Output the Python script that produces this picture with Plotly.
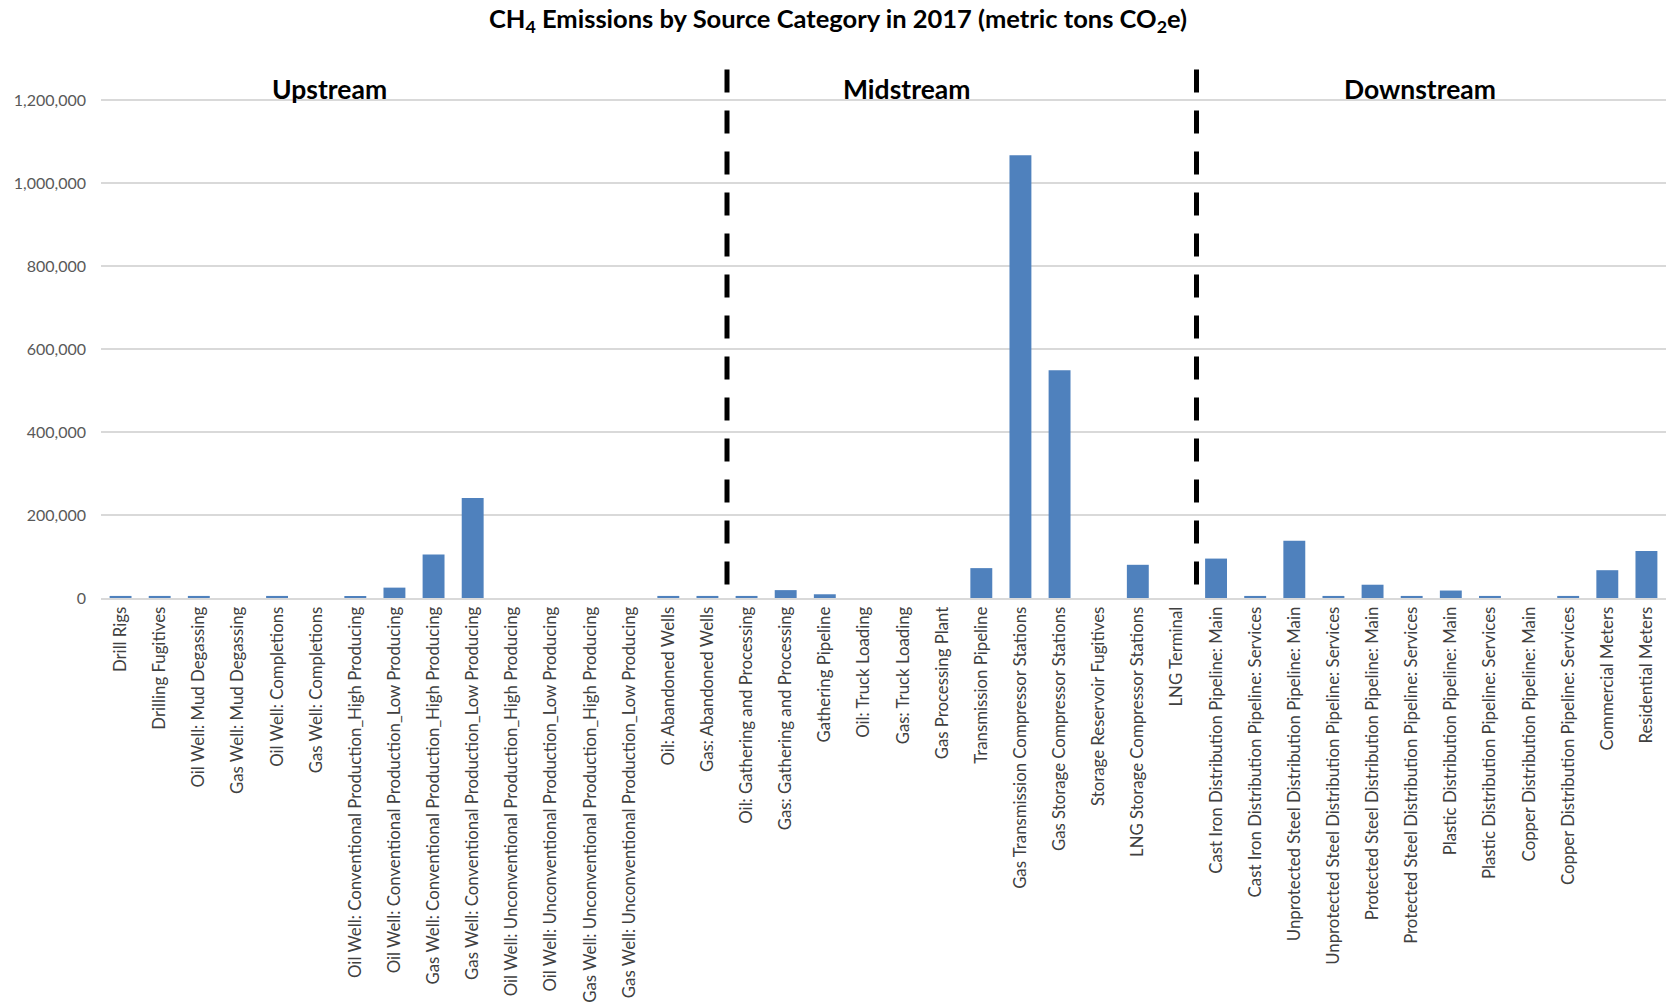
import plotly.graph_objects as go

categories = [
    "Drill Rigs", "Drilling Fugitives", "Oil Well: Mud Degassing", "Gas Well: Mud Degassing",
    "Oil Well: Completions", "Gas Well: Completions",
    "Oil Well: Conventional Production_High Producing",
    "Oil Well: Conventional Production_Low Producing",
    "Gas Well: Conventional Production_High Producing",
    "Gas Well: Conventional Production_Low Producing",
    "Oil Well: Unconventional Production_High Producing",
    "Oil Well: Unconventional Production_Low Producing",
    "Gas Well: Unconventional Production_High Producing",
    "Gas Well: Unconventional Production_Low Producing",
    "Oil: Abandoned Wells", "Gas: Abandoned Wells",
    "Oil: Gathering and Processing", "Gas: Gathering and Processing", "Gathering Pipeline",
    "Oil: Truck Loading", "Gas: Truck Loading", "Gas Processing Plant", "Transmission Pipeline",
    "Gas Transmission Compressor Stations", "Gas Storage Compressor Stations",
    "Storage Reservoir Fugitives", "LNG Storage Compressor Stations", "LNG Terminal",
    "Cast Iron Distribution Pipeline: Main", "Cast Iron Distribution Pipeline: Services",
    "Unprotected Steel Distribution Pipeline: Main", "Unprotected Steel Distribution Pipeline: Services",
    "Protected Steel Distribution Pipeline: Main", "Protected Steel Distribution Pipeline: Services",
    "Plastic Distribution Pipeline: Main", "Plastic Distribution Pipeline: Services",
    "Copper Distribution Pipeline: Main", "Copper Distribution Pipeline: Services",
    "Commercial Meters", "Residential Meters",
]

emissions = [
    5000, 5000, 5000, 0, 5000, 0, 4500, 25000, 105000, 241000,
    0, 0, 0, 0, 5000, 5000,
    5000, 19000, 9000, 0, 0, 0, 72000, 1067000, 549000, 0, 80000, 0,
    95000, 5000, 138000, 5000, 32000, 5000, 18000, 5000, 0, 5000, 67000, 113000,
]

y_ticks = [0, 200000, 400000, 600000, 800000, 1000000, 1200000]
y_tick_text = ["0", "200,000", "400,000", "600,000", "800,000", "1,000,000", "1,200,000"]

segments = ["Upstream", "Midstream", "Downstream"]
segment_label_x = [5.33, 20.1, 33.2]
segment_dividers = [15.5, 27.5]

Y_MAX = 1274700
FONT = "Lato, 'Open Sans', sans-serif"

idx = list(range(len(categories)))

fig = go.Figure(go.Bar(
    x=idx, y=emissions,
    marker=dict(color="#4f81bd", line=dict(width=0)),
    hoverinfo="x+y",
))

for xd in segment_dividers:
    fig.add_shape(type="line", x0=xd, x1=xd, y0=Y_MAX - 1500, y1=0, xref="x", yref="y",
                  line=dict(color="black", width=5, dash="23px,18px"), layer="above")

for name, xs in zip(segments, segment_label_x):
    fig.add_annotation(x=xs, y=1226000, xref="x", yref="y", text="<b>%s</b>" % name,
                       showarrow=False, font=dict(family=FONT, size=26.5, color="black"),
                       xanchor="center", yanchor="middle")

fig.update_layout(
    width=1666, height=1007,
    margin=dict(l=101, r=0, t=69, b=409),
    paper_bgcolor="white", plot_bgcolor="white",
    bargap=0.44,
    showlegend=False,
    title=dict(text="<b>CH<sub>4</sub> Emissions by Source Category in 2017 (metric tons CO<sub>2</sub>e)</b>",
               x=0.503, xanchor="center", y=0.981, yanchor="middle",
               font=dict(family=FONT, size=25.5, color="black")),
    font=dict(family=FONT),
)

fig.update_xaxes(
    range=[-0.5, len(categories) - 0.5],
    tickmode="array", tickvals=idx, ticktext=categories,
    tickangle=-90, tickfont=dict(family=FONT, size=16.8, color="#404040"),
    showgrid=False, showline=True, linecolor="#d9d9d9", linewidth=2,
    ticks="", zeroline=False,
)

fig.update_yaxes(
    range=[0, Y_MAX],
    tickmode="array", tickvals=y_ticks, ticktext=y_tick_text,
    tickfont=dict(family=FONT, size=16, color="#595959"),
    showgrid=True, gridcolor="#d9d9d9", gridwidth=1.5,
    showline=False, zeroline=False, ticks="", ticklabelstandoff=14,
)

fig.write_html("out.html")
